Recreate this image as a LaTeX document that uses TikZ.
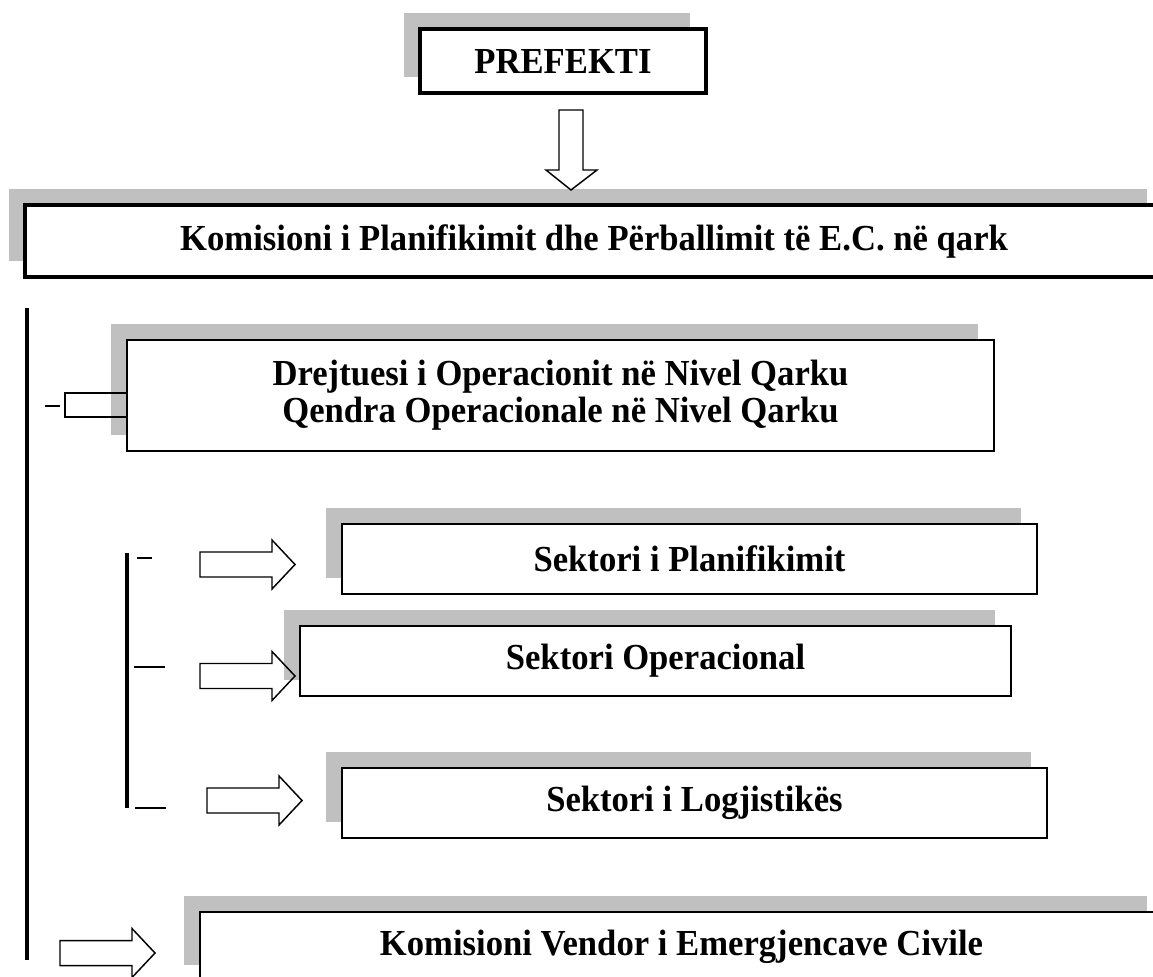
\documentclass[tikz,border=0pt]{standalone}
\usepackage{fontspec}
\setmainfont{Liberation Serif}[FakeStretch=0.945]
\usetikzlibrary{shadows}
\definecolor{shadowgray}{RGB}{192,192,192}

\tikzset{
  rarrow/.pic={
    \draw[blockarr] (0,-12.5) -- (72,-12.5) -- (72,-24.5) -- (95,0)
      -- (72,24.5) -- (72,12.5) -- (0,12.5) -- cycle;
  }
}

\begin{document}
\begin{tikzpicture}[x=0.75pt,y=-0.75pt,
    box/.style={draw, line width=1.5pt, fill=white, inner sep=0pt,
      font=\fontsize{27.5}{27.5}\selectfont\bfseries, align=center,
      drop shadow={shadow xshift=-12pt, shadow yshift=12pt, fill=shadowgray, opacity=1}},
    thickbox/.style={box, line width=2.4pt},
    blockarr/.style={draw, line width=1.1pt},
    bar/.style={line width=2.3pt},
    tick/.style={line width=1.1pt}]
  \useasboundingbox (0,0) rectangle (1153,976);
  \clip (0,0) rectangle (1153,976);

  % Prefekti
  \node[thickbox, minimum width=214.5pt, minimum height=48pt] (prefekti) at (563,61) {PREFEKTI};

  % Komisioni i qarkut
  \node[thickbox, minimum width=853.5pt, minimum height=54pt] (komisioni) at (594,241)
    {Komisioni i Planifikimit dhe Përballimit të E.C. në qark};

  % Drejtuesi / Qendra
  \node[box, minimum width=650.25pt, minimum height=83.25pt] (drejtuesi) at (560.5,395.5)
    {Drejtuesi i Operacionit në Nivel Qarku\\Qendra Operacionale në Nivel Qarku};

  % Sektoret
  \node[box, minimum width=521.25pt, minimum height=52.5pt] (planif) at (689.5,559) {Sektori i Planifikimit};
  \node[box, minimum width=533.25pt, minimum height=52.5pt] (operac) at (655.5,661) {Sektori Operacional};
  \node[box, minimum width=528.75pt, minimum height=52.5pt] (logj) at (694.5,803) {Sektori i Logjistikës};

  % Komisioni vendor
  \node[box, minimum width=722.25pt, minimum height=51.75pt] (vendor) at (681.5,946.5)
    {Komisioni Vendor i Emergjencave Civile};

  % Down arrow
  \coordinate (downtip) at (571,190);
  \draw[blockarr] (downtip) -- ++(-25,-20) -- ++(13,0) -- ++(0,-60) -- ++(24,0)
    -- ++(0,60) -- ++(14,0) -- cycle;

  % Vertical bars
  \draw[bar] (27,308) -- (27,960);
  \draw[bar] (127,553) -- (127,808);

  % Short ticks
  \draw[tick] (45,406) -- (60,406);
  \draw[tick] (137,558) -- (152,558);
  \draw[tick] (134,667) -- (165,667);
  \draw[tick] (135,808) -- (166,808);

  % Stub arrow into Drejtuesi
  \coordinate (stub) at (65,393);
  \draw[blockarr] (stub -| drejtuesi.west) -- (stub) -- ++(0,24) coordinate (stubb)
    -- (stubb -| drejtuesi.west);

  % Block arrows
  \pic (arrplanif) at (200,564.5) {rarrow};
  \pic (arroperac) at (200,676) {rarrow};
  \pic (arrlogj) at (207,800.5) {rarrow};
  \pic (arrvendor) at (60,953) {rarrow};
\end{tikzpicture}
\end{document}
